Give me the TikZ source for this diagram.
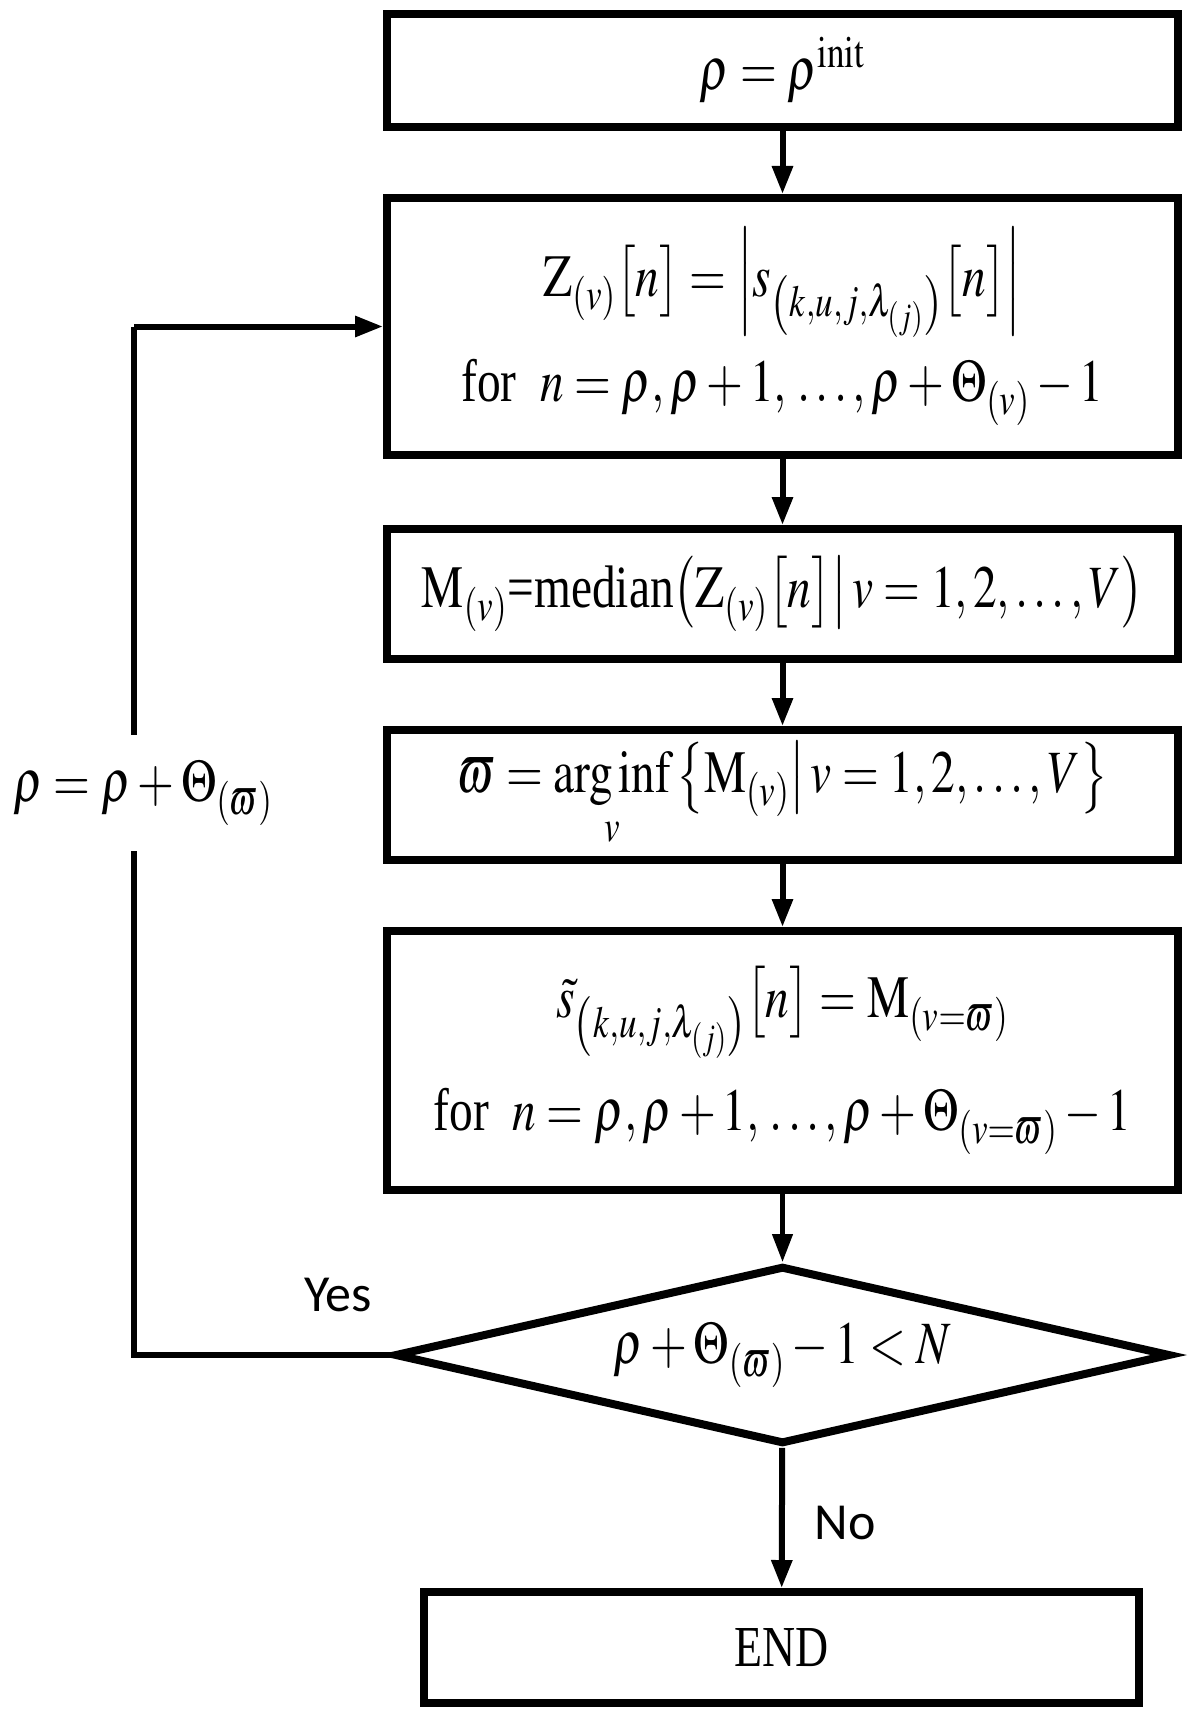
\documentclass[tikz,border=0pt]{standalone}
\usepackage{mathptmx}
\usepackage{fontspec}
\setmainfont{Liberation Serif}
\newfontfamily\lblfont{Carlito}
\usetikzlibrary{arrows.meta,shapes.geometric}
\newcommand\hsq[1]{\scalebox{0.79}[1]{#1}}
\begin{document}
\begin{tikzpicture}[x=1pt,y=1pt,
  box/.style={draw, line width=4pt, minimum width=395.5pt, inner sep=0pt, align=center,
    font=\fontsize{30}{36}\selectfont},
  decision/.style={draw, diamond, aspect=4.35, line width=4pt, minimum width=388pt, minimum height=89pt,
    inner sep=0pt, font=\fontsize{30}{36}\selectfont},
  conn/.style={line width=3pt, -{Triangle[width=10pt,length=14pt]}},
  thinconn/.style={line width=2.2pt, -{Triangle[width=10pt,length=14pt]}},
  loopline/.style={line width=3pt},
  yesno/.style={font=\lblfont\fontsize{26}{30}\selectfont, inner sep=0pt}]
\useasboundingbox (0,0) rectangle (600,-864);
\node[box, minimum height=56.5pt] (b1) at (391.25,-35.25) {\hsq{$\rho=\rho^{\mathrm{init}}$}};
\node[box, minimum height=128.5pt] (b2) at (391.25,-163.25)
  {\hsq{$\mathrm{Z}_{(v)}\big[n\big]=\left|s_{\left(k,u,j,\lambda_{(j)}\right)}\big[n\big]\right|$}\\[10pt]
   \hsq{for\ \ $n=\rho,\rho+1,\,\ldots,\rho+\Theta_{(v)}-1$}};
\node[box, minimum height=65pt] (b3) at (391.25,-297)
  {\hsq{$\mathrm{M}_{(v)}$=median$\left(\mathrm{Z}_{(v)}\big[n\big]\middle|\,v=1,2,\ldots,V\right)$}};
\node[box, minimum height=65pt] (b4) at (391.25,-397.5)
  {\hsq{$\varpi=\mathop{\mathrm{arg\,inf}}\limits_{v}\left\{\mathrm{M}_{(v)}\middle|\,v=1,2,\ldots,V\right\}$}};
\node[box, minimum height=129.5pt] (b5) at (391.25,-530.25)
  {\hsq{$\tilde{s}_{\left(k,u,j,\lambda_{(j)}\right)}\big[n\big]=\mathrm{M}_{(v=\varpi)}$}\\[14pt]
   \hsq{for\ \ $n=\rho,\rho+1,\,\ldots,\rho+\Theta_{(v=\varpi)}-1$}};
\node[decision] (d) at (391.25,-677.5) {\hsq{$\rho+\Theta_{(\varpi)}-1<N$}};
\node[box, minimum width=357.5pt, minimum height=55.5pt, font=\fontsize{29}{34}\selectfont]
  (e) at (390.75,-823.75) {\hsq{END}};
\coordinate (c1) at (67,-677.5);
\coordinate (c2) at (67,-163.25);
\draw[conn] (b1) -- (b2);
\draw[conn] (b2) -- (b3);
\draw[conn] (b3) -- (b4);
\draw[conn] (b4) -- (b5);
\draw[thinconn] (b5) -- (d);
\draw[conn] (d) -- (e);
\draw[loopline] (d.west) -- (c1) -- (c2);
\draw[conn] (c2) -- (b2.west);
\node[fill=white, inner xsep=2pt, inner ysep=13pt, font=\fontsize{30}{36}\selectfont]
  (upd) at (71.5,-396.5) {\hsq{$\rho=\rho+\Theta_{(\varpi)}$}};
\node[yesno] (yes) at (169,-647.5) {Yes};
\node[yesno] (no) at (422.5,-761.5) {No};
\end{tikzpicture}
\end{document}
